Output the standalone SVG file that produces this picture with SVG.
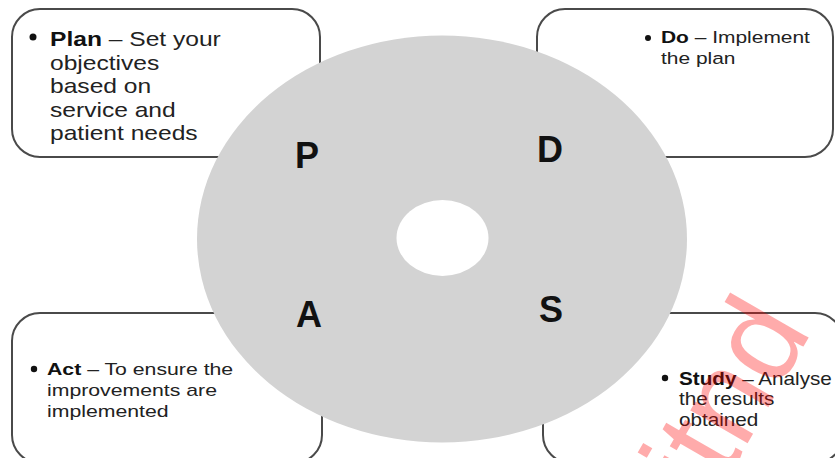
<svg xmlns="http://www.w3.org/2000/svg" width="835" height="458" viewBox="0 0 835 458">
<style>
.box{fill:#fff;stroke:#4a4a4a;stroke-width:2}
.t{font-family:"Liberation Sans",Arial,sans-serif;fill:#222}
.b{font-weight:bold;fill:#111}
.big{font-family:"Liberation Sans",Arial,sans-serif;font-size:36px;font-weight:bold;fill:#111}
.wm{font-family:"Liberation Sans",Arial,sans-serif;font-size:125px;fill:#ff0000;fill-opacity:0.33}
</style>
<rect width="835" height="458" fill="#fff"/>
<g id="plan-box">
<rect class="box" x="12" y="9" width="308" height="148" rx="28"/>
<circle cx="33" cy="37" r="3.5" fill="#111"/>
<g transform="translate(50,0) scale(1.2,1)">
<text class="t" font-size="20.5"><tspan class="b" x="0" y="46">Plan</tspan><tspan> – Set your</tspan><tspan x="0" y="70">objectives</tspan><tspan x="0" y="93">based on</tspan><tspan x="0" y="117">service and</tspan><tspan x="0" y="140">patient needs</tspan></text>
</g>
</g>
<g id="do-box">
<rect class="box" x="537" y="9" width="296" height="148" rx="28"/>
<circle cx="648" cy="38" r="3" fill="#111"/>
<g transform="translate(661,0) scale(1.27,1)">
<text class="t" font-size="16.5"><tspan class="b" x="0" y="43">Do</tspan><tspan> – Implement</tspan><tspan x="0" y="64">the plan</tspan></text>
</g>
</g>
<g id="act-box">
<rect class="box" x="12" y="313" width="310" height="150" rx="28"/>
<circle cx="34" cy="369" r="3.2" fill="#111"/>
<g transform="translate(47,0) scale(1.25,1)">
<text class="t" font-size="17"><tspan class="b" x="0" y="375">Act</tspan><tspan> – To ensure the</tspan><tspan x="0" y="396">improvements are</tspan><tspan x="0" y="417">implemented</tspan></text>
</g>
</g>
<g id="study-box">
<rect class="box" x="543" y="313" width="300" height="150" rx="28"/>
<circle cx="665" cy="378" r="3.2" fill="#111"/>
<g transform="translate(679,0) scale(1.15,1)">
<text class="t" font-size="18"><tspan class="b" x="0" y="385">Study</tspan><tspan> – Analyse</tspan><tspan x="0" y="405">the results</tspan><tspan x="0" y="426">obtained</tspan></text>
</g>
</g>
<g id="cycle">
<ellipse cx="442" cy="239" rx="245" ry="203.5" fill="#d3d3d3"/>
<ellipse cx="442.5" cy="238" rx="46" ry="38" fill="#fff"/>
</g>
<g id="letters">
<text class="big" x="295" y="168">P</text>
<text class="big" x="537" y="162">D</text>
<text class="big" x="296" y="327">A</text>
<text class="big" x="539" y="322">S</text>
</g>
<g id="watermark">
<text class="wm" transform="translate(712,505) rotate(-60)">itnd</text>
</g>
</svg>
